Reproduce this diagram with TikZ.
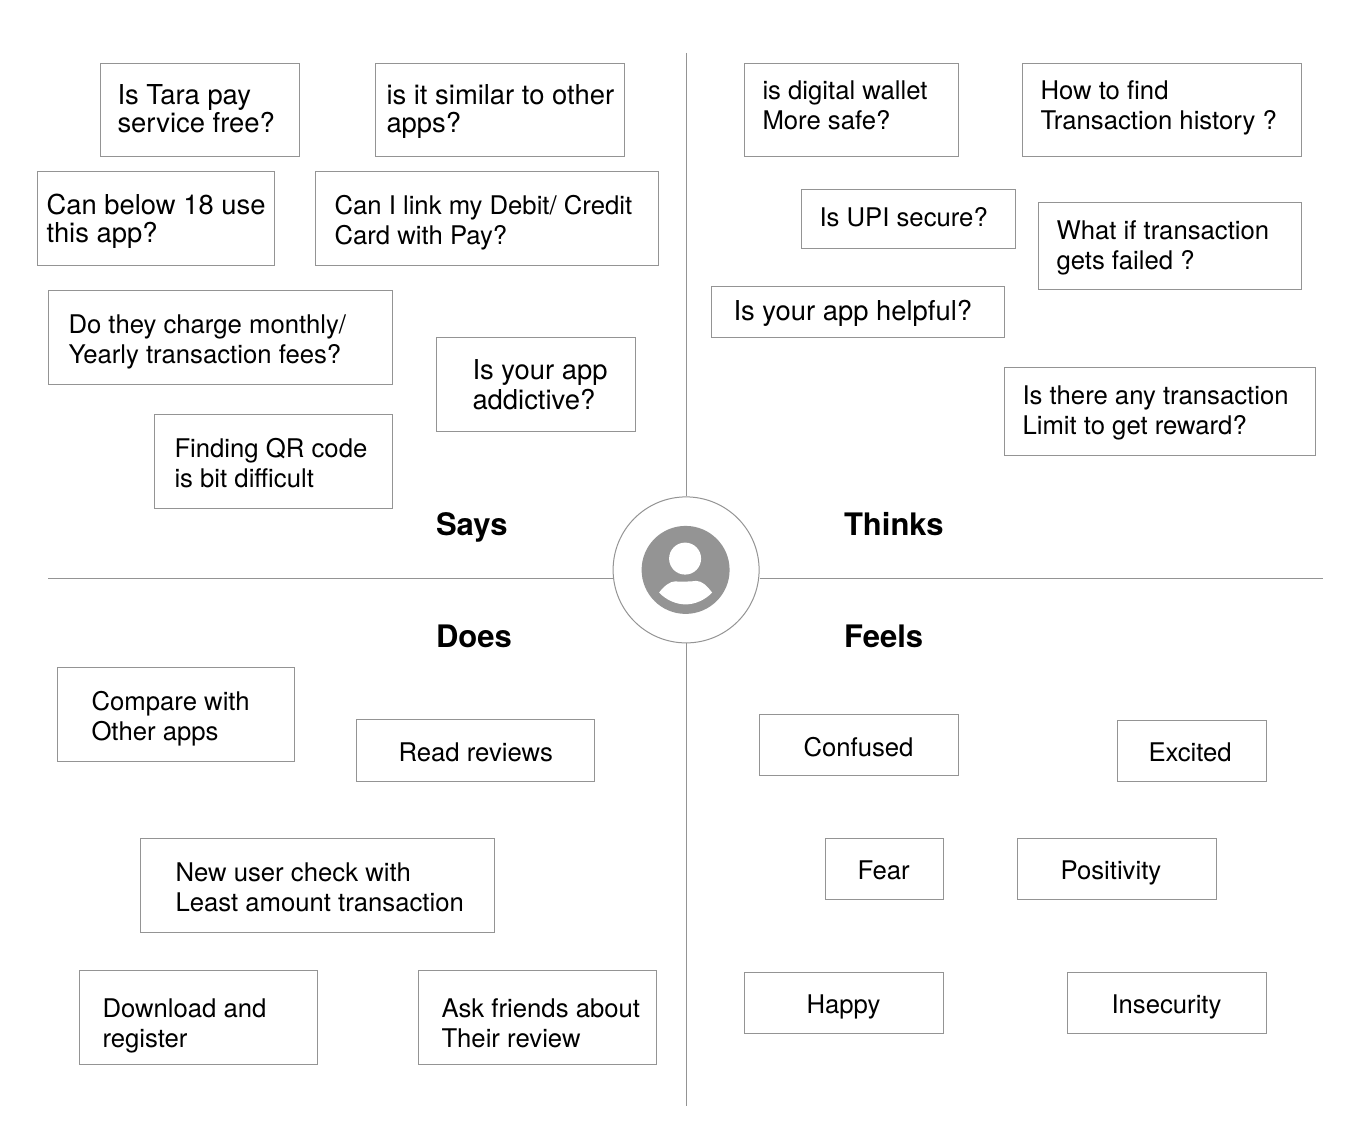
\documentclass[tikz,border=0pt]{standalone}
\usepackage{fontspec}
\setmainfont{TeX Gyre Heros}
\tikzset{
	note/.style={draw=black!42,line width=1pt},
	notetext/.style={anchor=west,align=left,text=black,inner sep=0pt},
	wide/.style={font=\fontsize{27.4}{28}\selectfont},
	mid/.style={font=\fontsize{25.7}{30}\selectfont},
	heading/.style={font=\fontsize{31}{34}\selectfont\bfseries,inner sep=0pt,anchor=base west},
	axis/.style={draw=black!42,line width=1pt}
}
% one box with its text: x1,y1,x2,y2,text x,text y,name,style,text
\newcommand{\notebox}[9]{
	\draw[note] (#1,-#2) rectangle (#3,-#4);
	\node[notetext,#8,xshift=-0.8pt,yshift=-2.6pt] (#7) at (#5,-#6) {\rule{0pt}{0.72em}#9\rule[-0.2em]{0pt}{0.2em}};
}
\begin{document}
\begin{tikzpicture}[x=1pt,y=1pt]
	\useasboundingbox (0,0) rectangle (1371,-1132);
	\fill[white] (0,0) rectangle (1371,-1132);
	\begin{scope}[xshift=0.1pt,yshift=0.1pt]
	% Axes
	\coordinate (top) at (686,-53);
	\coordinate (bottom) at (686,-1106);
	\coordinate (left) at (48,-579);
	\coordinate (right) at (1323,-579);
	\node[circle,draw=black!42,fill=white,line width=1pt,minimum size=146pt,inner sep=0pt] (user) at (686,-570) {};
	\draw[axis] (top) -- (user);
	\draw[axis] (user) -- (bottom);
	\draw[axis] (left) -- (left -| user.west);
	\draw[axis] (right -| user.east) -- (right);
	% Avatar
	\fill[black!42] (685.5,-570) circle (44);
	\fill[white] (685,-558.7) circle (16);
	\fill[white] (659,-592.7) .. controls (664,-586) and (670,-581.5) .. (675,-581.5)
		.. controls (680,-581.8) and (690,-581.8) .. (696,-581)
		.. controls (702,-581) and (707,-586) .. (712,-592.7)
		.. controls (705,-600) and (695,-604.5) .. (685.5,-604.5)
		.. controls (676,-604.5) and (666,-600) .. (659,-592.7);
	% Headings
	\node[heading] (says) at (435.7,-535.7) {Says};
	\node[heading] (thinks) at (843.7,-535.7) {Thinks};
	\node[heading] (does) at (435.7,-648) {Does};
	\node[heading] (feels) at (843.7,-648) {Feels};
	% Says
	\notebox{100}{64}{299}{157}{118}{109}{sa}{wide}{Is Tara pay\\service free?}
	\notebox{375}{64}{624}{157}{387}{109}{sb}{wide}{is it similar to other\\apps?}
	\notebox{37}{172}{274}{266}{47}{219}{sc}{wide}{Can below 18 use\\this app?}
	\notebox{315}{172}{658}{266}{335}{220}{sd}{mid}{Can I link my Debit/ Credit\\Card with Pay?}
	\notebox{48}{291}{392}{385}{69}{339}{se}{mid}{Do they charge monthly/\\Yearly transaction fees?}
	\notebox{436}{338}{635}{432}{473}{385}{sf}{wide,font=\fontsize{27.4}{30}\selectfont}{Is your app\\addictive?}
	\notebox{154}{415}{392}{509}{175}{463}{sg}{mid}{Finding QR code\\is bit difficult}
	% Thinks
	\notebox{744}{64}{958}{157}{763}{105}{ta}{mid}{is digital wallet\\More safe?}
	\notebox{1022}{64}{1301}{157}{1041}{105}{tb}{mid}{How to find\\Transaction history ?}
	\notebox{801}{190}{1015}{249}{820}{217}{tc}{mid}{Is UPI secure?}
	\notebox{1038}{203}{1301}{290}{1057}{245}{td}{mid}{What if transaction\\gets failed ?}
	\notebox{711}{287}{1004}{338}{734}{311}{te}{wide}{Is your app helpful?}
	\notebox{1004}{368}{1315}{456}{1023}{410}{tf}{mid}{Is there any transaction\\Limit to get reward?}
	% Does
	\notebox{57}{668}{294}{762}{92}{716}{da}{mid}{Compare with\\Other apps}
	\notebox{356}{720}{594}{782}{399}{752}{db}{mid}{Read reviews}
	\notebox{140}{839}{494}{933}{176}{887}{dc}{mid}{New user check with\\Least amount transaction}
	\notebox{79}{971}{317}{1065}{103}{1023}{dd}{mid}{Download and\\register}
	\notebox{418}{971}{656}{1065}{442}{1023}{de}{mid}{Ask friends about\\Their review}
	% Feels
	\notebox{759}{715}{958}{776}{804}{747}{fa}{mid}{Confused}
	\notebox{1117}{721}{1266}{782}{1149}{752}{fb}{mid}{Excited}
	\notebox{825}{839}{943}{900}{858}{870}{fc}{mid}{Fear}
	\notebox{1017}{839}{1216}{900}{1061}{870}{fd}{mid}{Positivity}
	\notebox{744}{973}{943}{1034}{807}{1004}{fe}{mid}{Happy}
	\notebox{1067}{973}{1266}{1034}{1112}{1004}{ff}{mid}{Insecurity}
	\end{scope}
\end{tikzpicture}
\end{document}
